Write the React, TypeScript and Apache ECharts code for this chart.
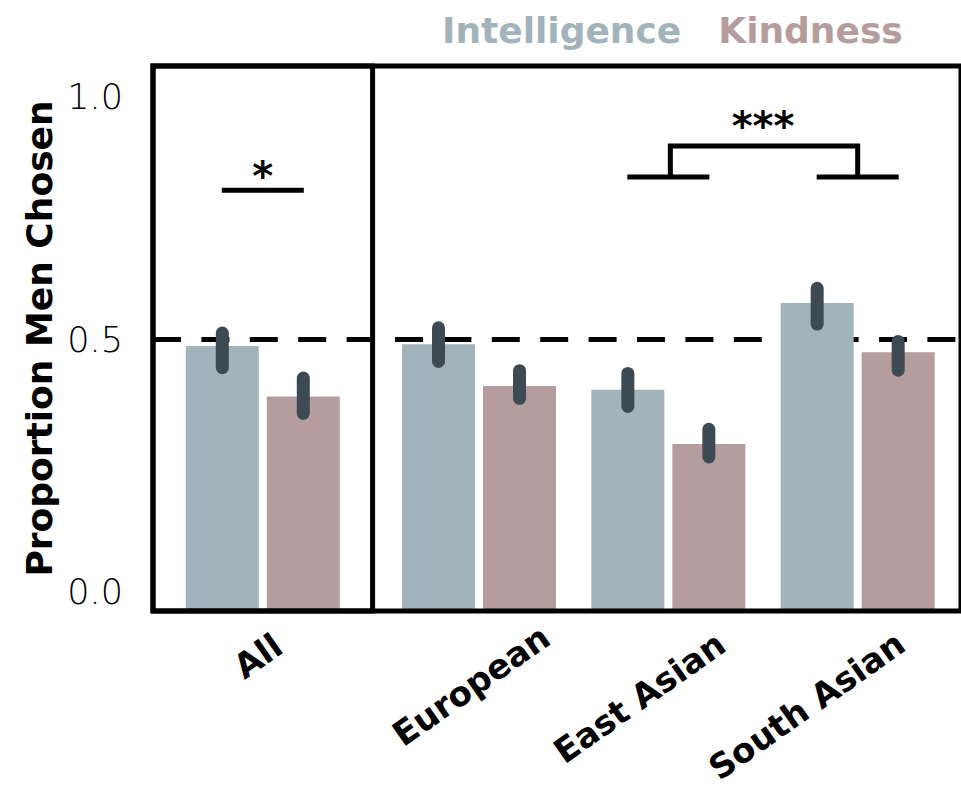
import React, { useEffect, useRef } from "react";
import * as echarts from "echarts";

// ---------------- data ----------------
const allCategory = ["All"];
const groupCategories = ["European", "East Asian", "South Asian"];
const seriesNames = ["Intelligence", "Kindness"];

const allIntelligence = [0.488];
const allKindness = [0.395];
const groupIntelligence = [0.491, 0.407, 0.567];
const groupKindness = [0.414, 0.307, 0.476];

// confidence intervals [low, high]
const allIntelligenceCI = [[0.448, 0.512]];
const allKindnessCI = [[0.364, 0.429]];
const groupIntelligenceCI = [[0.459, 0.521], [0.376, 0.437], [0.528, 0.594]];
const groupKindnessCI = [[0.391, 0.442], [0.283, 0.334], [0.443, 0.496]];

const yTickValues = [0, 0.5, 1.0];
const yTickLabels = ["0.0", "0.5", "1.0"];
const chanceLevel = 0.5;
const yMin = 0;
const yMax = 1.0037;

// significance annotations: [category, lineY, starY]
const allSignificance = [[0, 0.775, 0.81]];
const allSignificanceLabel = "*";
// [fromCategory, toCategory, footY, topY, starY]
const groupSignificance = [[1, 2, 0.799, 0.856, 0.902]];
const groupSignificanceLabel = "***";

// ---------------- style ----------------
const COLOR_I = "#a2b3bb";
const COLOR_K = "#b59d9d";
const COLOR_ERR = "#3d4a54";
const FONT = "DejaVu Sans";
const BAR_W = 73;
const BAR_GAP_PX = 8;
const BAR_SHIFT = (BAR_W + BAR_GAP_PX) / 2;

const ROT = 35;
const cosR = Math.cos((ROT * Math.PI) / 180);
const sinR = Math.sin((ROT * Math.PI) / 180);
// desired label centre offsets (px) from the tick anchor
const xLabelOffsets: Record<string, [number, number]> = {
  All: [-5, 45],
  European: [-8, 75],
  "East Asian": [-29, 87],
  "South Asian": [-51, 95],
};
function paddingFor(name: string) {
  const [dx, dy] = xLabelOffsets[name] || [0, 0];
  const a = dx * cosR - dy * sinR;
  const b = dx * sinR + dy * cosR;
  return [Math.max(0, 2 * b), Math.max(0, -2 * a), Math.max(0, -2 * b), Math.max(0, 2 * a)];
}
const xRich: Record<string, any> = {};
[...allCategory, ...groupCategories].forEach((c, i) => {
  xRich["c" + i] = {
    fontFamily: FONT,
    fontWeight: "bold",
    fontSize: 34,
    color: "#000",
    padding: paddingFor(c),
  };
});
const catIndex = (c: string) => [...allCategory, ...groupCategories].indexOf(c);

function errorSeries(xi: number, ci: number[][], sign: number) {
  return {
    type: "custom",
    xAxisIndex: xi,
    yAxisIndex: xi,
    z: 5,
    silent: true,
    data: ci.map((d, i) => [i, d[0], d[1]]),
    renderItem: (_p: any, api: any) => {
      const lo = api.coord([api.value(0), api.value(1)]);
      const hi = api.coord([api.value(0), api.value(2)]);
      const x = lo[0] + sign * BAR_SHIFT;
      return {
        type: "line",
        shape: { x1: x, y1: lo[1], x2: x, y2: hi[1] },
        style: { stroke: COLOR_ERR, lineWidth: 13, lineCap: "round" },
      };
    },
  };
}

const starStyle = {
  fill: "#000",
  fontFamily: FONT,
  fontWeight: "bold",
  fontSize: 40,
  align: "center",
  verticalAlign: "middle",
};

export default function App() {
  const ref = useRef<HTMLDivElement>(null);
  useEffect(() => {
    if (!ref.current) return;
    const chart = echarts.init(ref.current, undefined, { renderer: "svg" });
    const yLabelFormatter = (v: number) => {
      const k = yTickValues.findIndex((t) => Math.abs(t - v) < 1e-6);
      if (k < 0) return "";
      return `{t${k}|${yTickLabels[k]}}`;
    };
    const yLabelBase = { fontFamily: FONT, fontWeight: 200, fontSize: 35, color: "#000" };
    const option: any = {
      animation: false,
      backgroundColor: "#fff",
      legend: {
        data: [
          { name: seriesNames[0], textStyle: { color: COLOR_I } },
          { name: seriesNames[1], textStyle: { color: COLOR_K } },
        ],
        left: 432,
        top: 7,
        icon: "rect",
        itemWidth: 0,
        itemHeight: 0,
        itemGap: 32,
        selectedMode: false,
        textStyle: { fontFamily: FONT, fontWeight: "bold", fontSize: 36 },
      },
      grid: [
        { left: 153, top: 66, width: 219.6, height: 545, show: true, z: 10, borderColor: "#000", borderWidth: 5, backgroundColor: "transparent" },
        { left: 384.35, top: 66, width: 568, height: 545, show: false },
        { left: 153, top: 66, width: 900, height: 545, show: true, z: 10, borderColor: "#000", borderWidth: 5, backgroundColor: "transparent" },
      ],
      xAxis: [
        {
          gridIndex: 0,
          type: "category",
          data: allCategory,
          axisLine: { show: false },
          axisTick: { show: false },
          axisLabel: {
            interval: 0,
            rotate: ROT,
            align: "center",
            verticalAlign: "middle",
            margin: 0,
            formatter: (v: string) => `{c${catIndex(v)}|${v}}`,
            rich: xRich,
          },
        },
        {
          gridIndex: 1,
          type: "category",
          data: groupCategories,
          axisLine: { show: false },
          axisTick: { show: false },
          axisLabel: {
            interval: 0,
            rotate: ROT,
            align: "center",
            verticalAlign: "middle",
            margin: 0,
            formatter: (v: string) => `{c${catIndex(v)}|${v}}`,
            rich: xRich,
          },
        },
        { gridIndex: 2, type: "value", min: 0, max: 1, show: false },
      ],
      yAxis: [
        {
          gridIndex: 0,
          type: "value",
          min: yMin,
          max: yMax,
          interval: 0.5,
          axisLine: { show: false },
          axisTick: { show: false },
          splitLine: { show: false },
          axisLabel: {
            margin: 30,
            formatter: yLabelFormatter,
            rich: {
              t0: { ...yLabelBase, padding: [0, 0, 38, 0] },
              t1: { ...yLabelBase },
              t2: { ...yLabelBase, padding: [58, 0, 0, 0] },
            },
          },
          name: "Proportion Men Chosen",
          nameLocation: "middle",
          nameGap: 96,
          nameTextStyle: { fontFamily: FONT, fontWeight: "bold", fontSize: 36, color: "#000" },
        },
        { gridIndex: 1, type: "value", min: yMin, max: yMax, show: false, splitLine: { show: false } },
        { gridIndex: 2, type: "value", min: yMin, max: yMax, show: false, splitLine: { show: false } },
      ],
      series: [
        {
          type: "custom",
          xAxisIndex: 2,
          yAxisIndex: 2,
          z: 1,
          silent: true,
          data: [[0, chanceLevel]],
          renderItem: (params: any, api: any) => {
            const cs = params.coordSys;
            const y = api.coord([0, api.value(1)])[1];
            return {
              type: "line",
              shape: { x1: cs.x, y1: y, x2: cs.x + cs.width, y2: y },
              style: { stroke: "#000", lineWidth: 5, lineDash: [28, 20.4] },
            };
          },
        },
        { name: seriesNames[0], type: "bar", xAxisIndex: 0, yAxisIndex: 0, data: allIntelligence, barWidth: BAR_W, itemStyle: { color: COLOR_I }, z: 2 },
        { name: seriesNames[1], type: "bar", xAxisIndex: 0, yAxisIndex: 0, data: allKindness, barWidth: BAR_W, barGap: (BAR_GAP_PX / BAR_W) * 100 + "%", itemStyle: { color: COLOR_K }, z: 2 },
        { name: seriesNames[0], type: "bar", xAxisIndex: 1, yAxisIndex: 1, data: groupIntelligence, barWidth: BAR_W, itemStyle: { color: COLOR_I }, z: 2 },
        { name: seriesNames[1], type: "bar", xAxisIndex: 1, yAxisIndex: 1, data: groupKindness, barWidth: BAR_W, barGap: (BAR_GAP_PX / BAR_W) * 100 + "%", itemStyle: { color: COLOR_K }, z: 2 },
        errorSeries(0, allIntelligenceCI, -1),
        errorSeries(0, allKindnessCI, 1),
        errorSeries(1, groupIntelligenceCI, -1),
        errorSeries(1, groupKindnessCI, 1),
        {
          type: "custom",
          xAxisIndex: 0,
          yAxisIndex: 0,
          z: 6,
          silent: true,
          data: allSignificance,
          renderItem: (_p: any, api: any) => {
            const p = api.coord([api.value(0), api.value(1)]);
            const s = api.coord([api.value(0), api.value(2)]);
            return {
              type: "group",
              children: [
                { type: "line", shape: { x1: p[0] - 41, y1: p[1], x2: p[0] + 41, y2: p[1] }, style: { stroke: "#000", lineWidth: 5 } },
                { type: "text", x: s[0], y: s[1] + 5, style: { ...starStyle, text: allSignificanceLabel } },
              ],
            };
          },
        },
        {
          type: "custom",
          xAxisIndex: 1,
          yAxisIndex: 1,
          z: 6,
          silent: true,
          data: groupSignificance,
          renderItem: (_p: any, api: any) => {
            const a = api.coord([api.value(0), api.value(2)]);
            const b = api.coord([api.value(1), api.value(2)]);
            const top = api.coord([api.value(0), api.value(3)])[1];
            const starY = api.coord([api.value(0), api.value(4)])[1];
            const ls = { stroke: "#000", lineWidth: 5, fill: null };
            return {
              type: "group",
              children: [
                { type: "line", shape: { x1: a[0] - 41, y1: a[1], x2: a[0] + 41, y2: a[1] }, style: ls },
                { type: "line", shape: { x1: b[0] - 41, y1: b[1], x2: b[0] + 41, y2: b[1] }, style: ls },
                { type: "polyline", shape: { points: [[a[0] + 2, a[1]], [a[0] + 2, top], [b[0], top], [b[0], b[1]]] }, style: ls },
                { type: "text", x: (a[0] + b[0]) / 2, y: starY + 5, style: { ...starStyle, text: groupSignificanceLabel } },
              ],
            };
          },
        },
      ],
    };
    chart.setOption(option);
    return () => chart.dispose();
  }, []);
  return <div ref={ref} style={{ position: "absolute", left: 0, top: 0, width: 961, height: 787 }} />;
}
